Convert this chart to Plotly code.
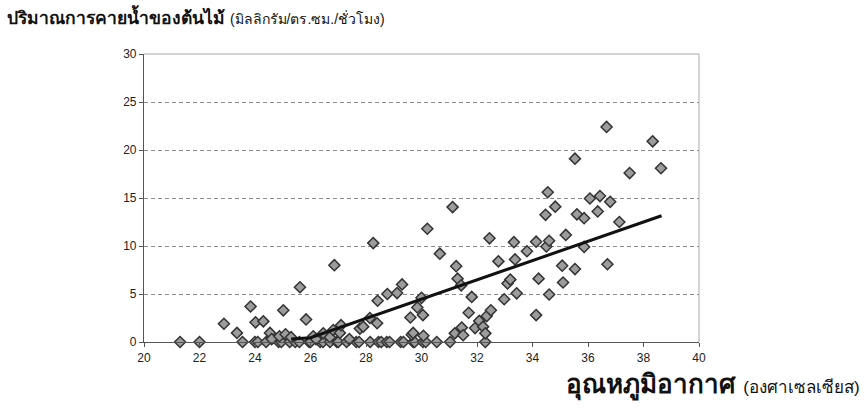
import plotly.graph_objects as go

# Air temperature (deg C) and transpiration rate (mg / cm2 / hr)
temp_zero = [21.3, 22.0, 23.55, 24.0, 24.1, 24.4, 24.85, 24.95, 25.25, 25.45, 25.6,
             25.95, 26.0, 26.35, 26.45, 26.7, 26.95, 27.0, 27.3, 27.65, 27.75, 28.15,
             28.45, 28.55, 28.75, 28.85, 29.25, 29.35, 29.7, 29.75, 30.05, 30.15,
             30.55, 31.03, 32.3]
temp_pos = [22.88, 23.35, 23.84, 24.02, 24.3, 24.54, 24.6, 24.88, 25.02, 25.1, 25.3,
            25.62, 25.84, 26.1, 26.2, 26.46, 26.7, 26.82, 26.86, 27.06, 27.1, 27.4,
            27.78, 27.9, 28.14, 28.26, 28.4, 28.42, 28.77, 29.12, 29.3, 29.6, 29.65,
            29.7, 29.85, 30.05, 30.0, 30.07, 30.21, 30.66,
            31.12, 31.25, 31.3, 31.43, 31.2, 31.45, 31.5, 31.7, 31.81, 31.93, 32.08,
            32.22, 32.3, 32.35, 32.45, 32.5, 32.77, 32.98, 33.1, 33.2, 33.33, 33.37,
            33.43, 33.8, 34.13, 34.13, 34.22, 34.47, 34.5, 34.55, 34.6, 34.6, 34.82,
            35.07, 35.1, 35.2, 35.53, 35.53, 35.6, 35.86, 35.86, 36.07, 36.35, 36.43,
            36.67, 36.7, 36.8, 37.13, 37.5, 38.33, 38.63]
rate_pos = [1.9, 0.95, 3.7, 2.05, 2.15, 0.95, 0.3, 0.6, 3.3, 0.8, 0.5,
            5.7, 2.35, 0.6, 0.3, 0.9, 0.5, 1.25, 8.0, 0.95, 1.75, 0.3,
            1.4, 1.6, 2.5, 10.3, 1.95, 4.3, 5.0, 5.1, 6.0, 2.55, 0.75,
            0.95, 3.6, 2.8, 4.6, 0.65, 11.8, 9.2,
            14.05, 7.9, 6.6, 5.9, 0.9, 1.5, 0.7, 3.05, 4.7, 1.45, 2.2,
            1.6, 0.9, 2.7, 10.8, 3.3, 8.4, 4.45, 6.1, 6.5, 10.4, 8.6,
            5.07, 9.45, 10.45, 2.8, 6.6, 13.25, 9.95, 15.6, 10.55, 4.95, 14.1,
            7.95, 6.2, 11.15, 19.1, 7.6, 13.3, 12.9, 9.9, 14.95, 13.6, 15.2,
            22.4, 8.1, 14.6, 12.5, 17.6, 20.9, 18.1]

temperature = temp_zero + temp_pos
transpiration = [0.0] * len(temp_zero) + rate_pos

# Trend line
trend_x = [25.3, 26.0, 38.65]
trend_y = [0.3, 0.45, 13.15]

x_ticks = [20, 22, 24, 26, 28, 30, 32, 34, 36, 38, 40]
y_ticks = [0, 5, 10, 15, 20, 25, 30]

fig = go.Figure()
fig.add_trace(go.Scatter(
    x=temperature, y=transpiration, mode="markers",
    marker=dict(symbol="diamond", size=8.5, color="#9c9c9c",
                line=dict(color="#333333", width=1.5)),
    cliponaxis=False, showlegend=False, hoverinfo="x+y",
))
fig.add_trace(go.Scatter(
    x=trend_x, y=trend_y, mode="lines",
    line=dict(color="#111111", width=3), showlegend=False,
))

fig.update_layout(
    width=867, height=412,
    margin=dict(l=144, r=168, t=54, b=70),
    paper_bgcolor="white", plot_bgcolor="white",
    font=dict(family="Liberation Sans, Arial, sans-serif", color="#222222", size=12),
    xaxis=dict(
        range=[20, 40], tickvals=x_ticks, ticktext=[str(v) for v in x_ticks],
        showgrid=False, zeroline=False,
        showline=True, linecolor="#555555", linewidth=1.2,
        ticks="outside", ticklen=4, tickcolor="#555555",
    ),
    yaxis=dict(
        range=[0, 30], tickvals=y_ticks, ticktext=[str(v) for v in y_ticks],
        showgrid=True, gridcolor="#8a8a8a", griddash="4px,3px", gridwidth=1,
        zeroline=False,
        showline=True, linecolor="#555555", linewidth=1.2,
        ticks="outside", ticklen=4, tickcolor="#555555",
    ),
    shapes=[
        # light frame on the top and right of the plot area
        dict(type="line", xref="paper", yref="paper", x0=0, x1=1, y0=1, y1=1,
             line=dict(color="#aaaaaa", width=1)),
        dict(type="line", xref="paper", yref="paper", x0=1, x1=1, y0=0, y1=1,
             line=dict(color="#aaaaaa", width=1)),
    ],
    annotations=[
        dict(xref="paper", yref="paper", x=-139 / 555, y=1 + 37 / 288,
             xanchor="left", yanchor="middle", showarrow=False,
             text="<b>ปริมาณการคายน้ำของต้นไม้</b> "
                  "<span style='font-size:14px'>(มิลลิกรัม/ตร.ซม./ชั่วโมง)</span>",
             font=dict(size=17.5, color="#111111")),
        dict(xref="paper", yref="paper", x=(862 - 144) / 555, y=-43 / 288,
             xanchor="right", yanchor="middle", showarrow=False,
             text="<b>อุณหภูมิอากาศ</b> "
                  "<span style='font-size:17px'>(องศาเซลเซียส)</span>",
             font=dict(size=26, color="#111111")),
    ],
)

fig.write_html("out.html")
